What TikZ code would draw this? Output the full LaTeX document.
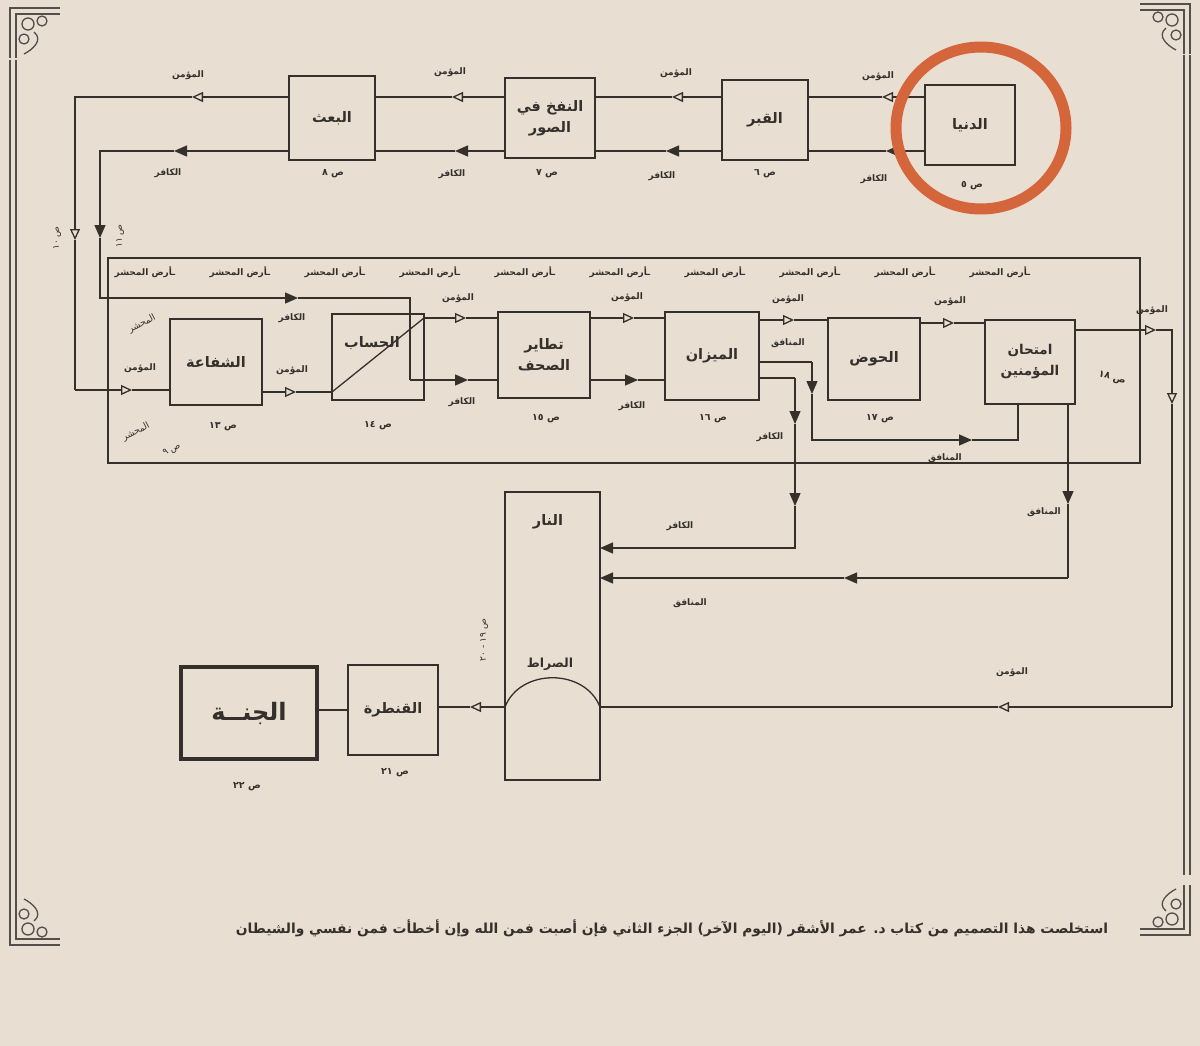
\documentclass[tikz,border=0pt]{standalone}
\usepackage{fontspec}
\setmainfont{DejaVu Sans}
\newfontfamily\arabicfont[Script=Arabic]{DejaVu Sans}
\TeXXeTstate=1
\usetikzlibrary{arrows.meta}
\definecolor{paper}{HTML}{E8DED2}
\definecolor{ink}{HTML}{35302C}
\definecolor{ring}{HTML}{D5663C}
\newcommand{\artxt}[1]{{\arabicfont\beginR #1\endR}}
\begin{document}
\begin{tikzpicture}[x=1pt,y=-1pt,
  ln/.style={draw=ink,line width=1.3pt},
  ao/.style={ln,-{Triangle[open,length=11pt,width=10pt]}},
  af/.style={ln,-{Triangle[length=13pt,width=11pt]}},
  box/.style={draw=ink,line width=1.6pt,inner sep=0pt,outer sep=0pt,text=ink,align=center,font=\fontsize{14.5}{21}\selectfont\bfseries},
  lbl/.style={text=ink,inner sep=0pt,font=\fontsize{9}{10}\selectfont\bfseries},
  pg/.style={text=ink,inner sep=0pt,font=\fontsize{9.5}{10}\selectfont\bfseries},
  hand/.style={text=ink,inner sep=0pt,font=\fontsize{9}{10}\selectfont},
  frame/.style={draw=ink!85,line width=1.3pt},
  pagecorner/.pic={
    \draw[frame] (0,50) -- (0,0) -- (50,0);
    \draw[frame] (6,50) -- (6,6) -- (50,6);
    \draw[frame] (18,16) circle (6);
    \draw[frame] (32,13) circle (5);
    \draw[frame] (14,31) circle (5);
    \draw[frame] (24,24) .. controls (34,32) and (22,42) .. (14,46);
  },
]
\fill[paper] (0,0) rectangle (1200,1046);
\useasboundingbox (0,0) rectangle (1200,1046);

% page frame
\draw[frame] (10,60) -- (10,900);
\draw[frame] (16,60) -- (16,900);
\draw[frame] (1184,55) -- (1184,875);
\draw[frame] (1190,55) -- (1190,875);
\pic at (10,8) {pagecorner};
\pic[xscale=-1] at (1190,4) {pagecorner};
\pic[yscale=-1] at (10,945) {pagecorner};
\pic[xscale=-1,yscale=-1] at (1190,935) {pagecorner};

% ---------- top row ----------
\node[box,minimum width=90,minimum height=80] (dunya) at (970,125) {\artxt{الدنيا}};
\node[box,minimum width=86,minimum height=80] (qabr) at (765,120) {\artxt{القبر}};
\node[box,minimum width=90,minimum height=80] (nafkh) at (550,118) {\artxt{النفخ في}\\\artxt{الصور}};
\node[box,minimum width=86,minimum height=84] (baath) at (332,118) {\artxt{البعث}};

\node[pg] (p5) at (972,186) {\artxt{ص ٥}};
\node[pg] (p6) at (765,174) {\artxt{ص ٦}};
\node[pg] (p7) at (547,174) {\artxt{ص ٧}};
\node[pg] (p8) at (333,174) {\artxt{ص ٨}};

% believers (top)
\coordinate (u1) at (882,97);
\coordinate (u2) at (672,97);
\coordinate (u3) at (452,97);
\coordinate (u4) at (192,97);
\coordinate (cu) at (75,97);
\coordinate (v1) at (75,240);
\coordinate (cd) at (75,390);
\coordinate (m0) at (132,390);
\draw[ao] (dunya.west |- u1) -- (u1);
\draw[ln] (u1) -- (qabr.east |- u1);
\draw[ao] (qabr.west |- u2) -- (u2);
\draw[ln] (u2) -- (nafkh.east |- u2);
\draw[ao] (nafkh.west |- u3) -- (u3);
\draw[ln] (u3) -- (baath.east |- u3);
\draw[ao] (baath.west |- u4) -- (u4);
\draw[ao] (u4) -- (cu) -- (v1);
\draw[ln] (v1) -- (cd);

% disbelievers (top)
\coordinate (k1) at (886,151);
\coordinate (k2) at (666,151);
\coordinate (k3) at (455,151);
\coordinate (k4) at (174,151);
\coordinate (kc) at (100,151);
\coordinate (v2) at (100,238);
\coordinate (kd) at (100,298);
\coordinate (k5) at (298,298);
\coordinate (ke) at (410,298);
\coordinate (kf) at (410,380);
\coordinate (k6) at (468,380);
\draw[af] (dunya.west |- k1) -- (k1);
\draw[ln] (k1) -- (qabr.east |- k1);
\draw[af] (qabr.west |- k2) -- (k2);
\draw[ln] (k2) -- (nafkh.east |- k2);
\draw[af] (nafkh.west |- k3) -- (k3);
\draw[ln] (k3) -- (baath.east |- k3);
\draw[af] (baath.west |- k4) -- (k4);
\draw[af] (k4) -- (kc) -- (v2);
\draw[af] (v2) -- (kd) -- (k5);
\draw[ln] (k5) -- (ke) -- (kf);

\node[lbl] (t1) at (878,76) {\artxt{المؤمن}};
\node[lbl] (t2) at (676,73) {\artxt{المؤمن}};
\node[lbl] (t3) at (450,72) {\artxt{المؤمن}};
\node[lbl] (t4) at (188,75) {\artxt{المؤمن}};
\node[lbl] (t5) at (874,179) {\artxt{الكافر}};
\node[lbl] (t6) at (662,176) {\artxt{الكافر}};
\node[lbl] (t7) at (452,174) {\artxt{الكافر}};
\node[lbl] (t8) at (168,173) {\artxt{الكافر}};
\node[hand,rotate=90] (h1) at (57,238) {\artxt{ص ١٠}};
\node[hand,rotate=90] (h2) at (120,236) {\artxt{ص ١١}};

% ---------- gathering ground ----------
\node[draw=ink,line width=1.5pt,minimum width=1032,minimum height=205,inner sep=0pt] (mahshar) at (624,360.5) {};
\foreach \i in {0,...,9} {
  \node[pg,font=\fontsize{9}{10}\selectfont\bfseries] (ard\i) at ({1000-\i*95},272) {\artxt{ـأرض المحشر}};
}
\node[hand,rotate=28] (h3) at (142,324) {\artxt{المحشر}};
\node[hand,rotate=28] (h4) at (136,432) {\artxt{المحشر}};
\node[hand,rotate=28] (h5) at (172,450) {\artxt{ص ٩}};

\node[box,minimum width=92,minimum height=86] (shafa) at (216,362) {\artxt{الشفاعة}};
\node[box,minimum width=92,minimum height=86] (hisab) at (378,357) {};
\node[box,draw=none] (hisabt) at (372,343) {\artxt{الحساب}};
\node[box,minimum width=92,minimum height=86] (tatayur) at (544,355) {\artxt{تطاير}\\\artxt{الصحف}};
\node[box,minimum width=94,minimum height=88] (mizan) at (712,356) {\artxt{الميزان}};
\node[box,minimum width=92,minimum height=82] (hawd) at (874,359) {\artxt{الحوض}};
\node[box,minimum width=90,minimum height=84,font=\fontsize{13.5}{21}\selectfont\bfseries] (imtihan) at (1030,362) {\artxt{امتحان}\\\artxt{المؤمنين}};

\node[pg] (p13) at (223,427) {\artxt{ص ١٣}};
\node[pg] (p14) at (378,426) {\artxt{ص ١٤}};
\node[pg] (p15) at (546,419) {\artxt{ص ١٥}};
\node[pg] (p16) at (713,419) {\artxt{ص ١٦}};
\node[pg] (p17) at (880,419) {\artxt{ص ١٧}};
\node[pg,rotate=-15] (p18) at (1112,378) {\artxt{ص ١٨}};

% believers (middle)
\coordinate (m1) at (296,392);
\coordinate (m2) at (466,318);
\coordinate (m3) at (634,318);
\coordinate (m4) at (794,320);
\coordinate (m5) at (954,323);
\coordinate (m6) at (1156,330);
\coordinate (rc) at (1172,330);
\coordinate (v3) at (1172,404);
\coordinate (rb) at (1172,707);
\coordinate (m7) at (998,707);
\draw[ao] (cd) -- (m0);
\draw[ln] (m0) -- (shafa.west |- m0);
\draw[ao] (shafa.east |- m1) -- (m1);
\draw[ln] (m1) -- (hisab.west |- m1);
\draw[ln] (hisab.west |- m1) -- (hisab.east |- m2);
\draw[ao] (hisab.east |- m2) -- (m2);
\draw[ln] (m2) -- (tatayur.west |- m2);
\draw[ao] (tatayur.east |- m3) -- (m3);
\draw[ln] (m3) -- (mizan.west |- m3);
\draw[ao] (mizan.east |- m4) -- (m4);
\draw[ln] (m4) -- (hawd.west |- m4);
\draw[ao] (hawd.east |- m5) -- (m5);
\draw[ln] (m5) -- (imtihan.west |- m5);
\draw[ao] (imtihan.east |- m6) -- (m6);
\draw[ao] (m6) -- (rc) -- (v3);
\draw[ln] (v3) -- (rb);
\draw[ao] (rb) -- (m7);

% disbelievers (middle)
\coordinate (k7) at (638,380);
\coordinate (ka) at (795,378);
\coordinate (k8) at (795,424);
\coordinate (k9) at (795,506);
\coordinate (kb) at (795,548);
\draw[af] (kf) -- (k6);
\draw[ln] (k6) -- (tatayur.west |- k6);
\draw[af] (tatayur.east |- k7) -- (k7);
\draw[ln] (k7) -- (mizan.west |- k7);
\draw[ln] (mizan.east |- ka) -- (ka);
\draw[af] (ka) -- (k8);
\draw[af] (k8) -- (k9);

% hypocrites
\coordinate (na) at (812,362);
\coordinate (n1) at (812,394);
\coordinate (nb) at (812,440);
\coordinate (n2) at (972,440);
\coordinate (nc) at (1018,440);
\coordinate (n3) at (1068,504);
\coordinate (ne) at (1068,578);
\coordinate (n4) at (844,578);
\draw[ln] (mizan.east |- na) -- (na);
\draw[af] (na) -- (n1);
\draw[af] (n1) -- (nb) -- (n2);
\draw[ln] (n2) -- (nc) -- (imtihan.south -| nc);
\draw[af] (imtihan.south -| n3) -- (n3);
\draw[ln] (n3) -- (ne);
\draw[af] (ne) -- (n4);

\node[lbl] (t9) at (140,368) {\artxt{المؤمن}};
\node[lbl] (t10) at (292,370) {\artxt{المؤمن}};
\node[lbl] (t11) at (458,298) {\artxt{المؤمن}};
\node[lbl] (t12) at (627,297) {\artxt{المؤمن}};
\node[lbl] (t13) at (788,299) {\artxt{المؤمن}};
\node[lbl] (t14) at (950,301) {\artxt{المؤمن}};
\node[lbl] (t15) at (1152,310) {\artxt{المؤمن}};
\node[lbl] (t16) at (292,318) {\artxt{الكافر}};
\node[lbl] (t17) at (462,402) {\artxt{الكافر}};
\node[lbl] (t18) at (632,406) {\artxt{الكافر}};
\node[lbl] (t19) at (770,437) {\artxt{الكافر}};
\node[lbl] (t20) at (788,343) {\artxt{المنافق}};
\node[lbl] (t21) at (945,458) {\artxt{المنافق}};

% ---------- fire and bridge ----------
\node[box,minimum width=95,minimum height=288] (naar) at (552.5,636) {};
\node[box,draw=none] (naart) at (548,522) {\artxt{النار}};
\node[box,draw=none,font=\fontsize{12.5}{14}\selectfont\bfseries] (siratt) at (550,664) {\artxt{الصراط}};
\coordinate (sl) at (naar.west |- m7);
\coordinate (sr) at (naar.east |- m7);
\draw[ln] (sl) .. controls (520,668) and (585,668) .. (sr);
\draw[ln] (m7) -- (sr);
\draw[af] (k9) -- (kb) -- (naar.east |- kb);
\draw[af] (n4) -- (naar.east |- n4);
\node[hand,rotate=90] (h6) at (484,640) {\artxt{ص ١٩ - ٢٠}};

\node[lbl] (t22) at (680,526) {\artxt{الكافر}};
\node[lbl] (t23) at (690,603) {\artxt{المنافق}};
\node[lbl] (t24) at (1044,512) {\artxt{المنافق}};
\node[lbl] (t25) at (1012,672) {\artxt{المؤمن}};

% ---------- bridge and paradise ----------
\node[box,minimum width=90,minimum height=90] (qantara) at (393,710) {\artxt{القنطرة}};
\node[box,line width=3.2pt,minimum width=136,minimum height=92,font=\fontsize{24}{28}\selectfont\bfseries] (janna) at (249,713) {\artxt{الجنــة}};
\node[pg] (p21) at (395,773) {\artxt{ص ٢١}};
\node[pg] (p22) at (247,787) {\artxt{ص ٢٢}};
\coordinate (m8) at (470,707);
\draw[ao] (sl) -- (m8);
\draw[ln] (m8) -- (qantara.east |- m8);
\draw[ln] (qantara.west) -- (janna.east |- qantara.west);

% footer
\node[text=ink,inner sep=0pt,font=\fontsize{13.8}{16}\selectfont\bfseries] (footer) at (672,928) {\artxt{استخلصت هذا التصميم من كتاب د. عمر الأشقر (اليوم الآخر) الجزء الثاني فإن أصبت فمن الله وإن أخطأت فمن نفسي والشيطان}};

% highlight ring
\draw[ring,line width=11pt] (981,128) ellipse [x radius=85, y radius=81];
\end{tikzpicture}
\end{document}
